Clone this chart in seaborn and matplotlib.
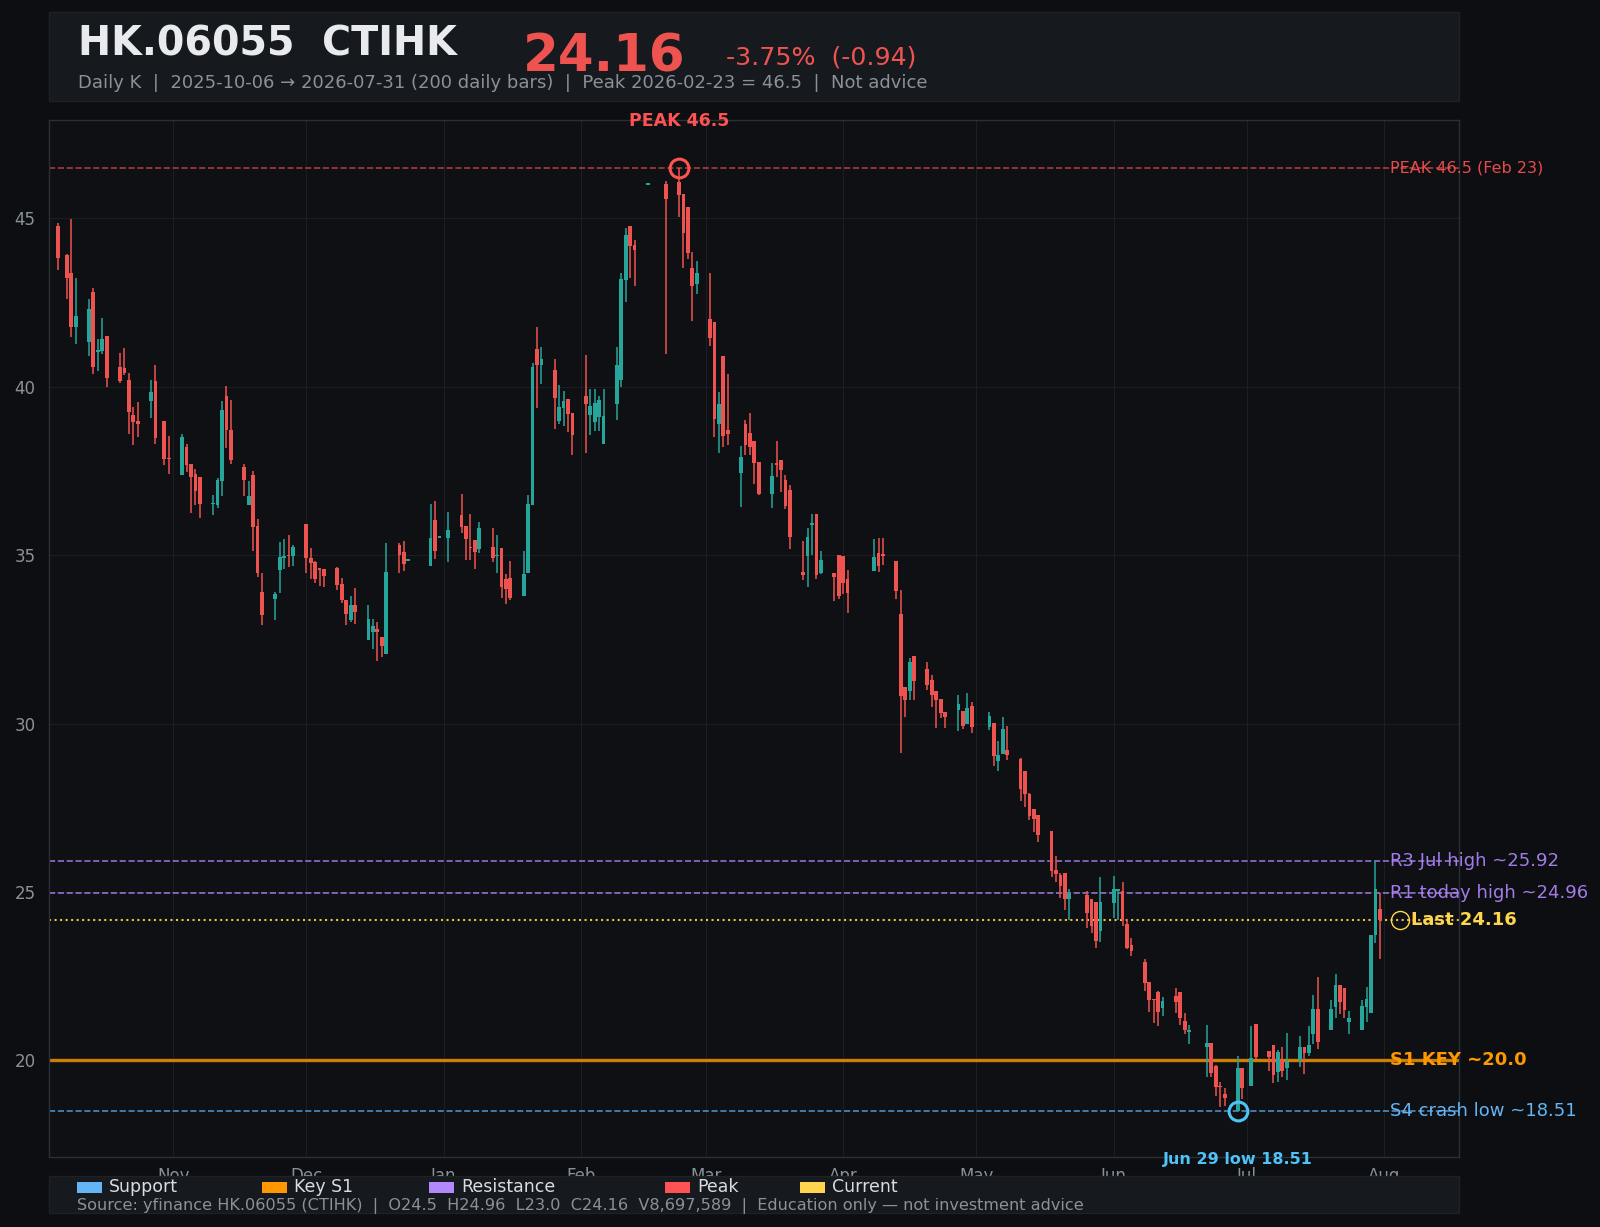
"""Daily K chart for HK.06055 (CTIHK) with support / resistance levels.

Candles from daily OHLC, dark theme, key levels labelled on the right.
Writes out.png (1600x1227).
"""
import numpy as np
import pandas as pd
import matplotlib
matplotlib.use("Agg")
import matplotlib.pyplot as plt
import matplotlib.dates as mdates
from matplotlib.patches import Rectangle
import seaborn as sns

# ---- data -------------------------------------------------------------
HK_HOLIDAYS = ["2025-10-07", "2025-10-29", "2025-12-25", "2025-12-26", "2026-01-01",
               "2026-02-17", "2026-02-18", "2026-02-19", "2026-04-03", "2026-04-06",
               "2026-04-07", "2026-05-01", "2026-05-25", "2026-06-19", "2026-07-01"]
trade_days = pd.bdate_range("2025-10-06", "2026-07-31")
trade_days = trade_days[~trade_days.isin(pd.to_datetime(HK_HOLIDAYS))]

opens = [
    44.77, 43.91, 43.38, 41.78, 41.34, 42.81, 41.04, 41.07, 41.50, 40.59, 40.55, 40.20, 39.16, 38.98, 39.59, 40.17, 38.98, 37.90,
    37.39, 38.21, 37.70, 37.41, 37.32, 36.51, 36.49, 37.21, 39.72, 38.71, 37.62, 36.49, 37.38, 35.86, 33.90, 33.71, 34.56, 34.93, 35.00, 34.98,
    35.92, 34.93, 34.79, 34.62, 34.59, 34.62, 34.14, 33.67, 33.07, 33.52, 32.48, 32.73, 32.80, 32.57, 32.07, 35.30, 35.09, 34.83, 34.69, 36.04, 35.52,
    35.52, 36.19, 35.86, 35.22, 35.45, 35.19, 35.24, 34.97, 35.21, 34.28, 34.32, 33.79, 34.48, 36.50, 41.12, 40.66, 40.50, 38.98, 39.38, 39.64, 39.22,
    39.72, 39.17, 38.96, 39.11, 38.31, 39.50, 40.20, 43.18, 44.77, 44.21, 46.00, 46.02, 46.08, 45.72, 45.34, 43.53, 43.06,
    42.01, 41.92, 38.89, 40.91, 38.73, 37.45, 38.89, 38.64, 38.39, 37.76, 36.81, 37.75, 37.82, 37.23, 36.93, 34.49, 34.98, 35.91, 36.22, 34.48, 34.47, 35.00,
    34.97, 34.29, 34.54, 35.06, 35.00, 34.82, 33.25, 31.08, 30.96, 32.00, 31.62, 31.29, 30.96, 30.73, 30.34, 30.40, 30.37, 29.98, 30.52,
    29.90, 30.01, 28.88, 29.09, 29.21, 28.94, 28.59, 27.90, 27.46, 27.28, 26.81, 25.65, 25.50, 25.56, 24.79, 24.90, 24.79, 24.70, 23.83,
    24.67, 25.04, 25.02, 24.04, 23.42, 22.92, 22.32, 21.81, 22.02, 21.56, 21.90, 22.02, 21.16, 20.85, 20.40, 20.51, 19.83, 19.21, 19.02, 18.51, 19.77,
    19.23, 21.07, 20.27, 20.45, 19.65, 20.00, 19.77, 20.00, 20.39, 20.21, 20.79, 21.54, 20.90, 21.59, 22.23, 22.16, 21.14, 20.90, 21.59, 21.41, 23.72, 24.50,
]
highs = [
    44.87, 43.95, 44.98, 43.24, 42.60, 42.94, 41.42, 42.04, 41.50, 41.00, 41.15, 40.41, 39.40, 39.55, 40.20, 40.65, 38.98, 38.54,
    38.60, 38.30, 37.70, 37.56, 37.32, 36.78, 37.30, 39.59, 40.02, 39.60, 37.70, 37.20, 37.50, 36.07, 34.47, 33.90, 35.40, 35.48, 35.60, 35.31,
    35.92, 35.20, 34.84, 34.62, 34.59, 34.64, 34.32, 33.67, 33.79, 34.02, 33.52, 33.10, 33.01, 32.57, 35.36, 35.36, 35.42, 34.86, 36.52, 36.61, 35.55,
    36.29, 36.81, 35.86, 36.22, 35.45, 35.98, 35.80, 35.60, 35.21, 34.44, 34.82, 35.13, 36.80, 40.70, 41.78, 41.18, 40.82, 40.05, 39.87, 39.64, 39.22,
    40.94, 39.93, 39.93, 39.73, 39.93, 41.19, 43.38, 44.70, 44.77, 44.36, 46.03, 46.11, 46.50, 45.72, 45.34, 44.00, 43.73,
    43.38, 41.92, 39.84, 40.91, 40.38, 38.25, 39.01, 39.22, 38.39, 37.76, 37.74, 38.39, 37.82, 37.38, 37.08, 35.42, 35.80, 36.22, 36.22, 35.12, 34.47, 35.00,
    34.97, 34.56, 35.48, 35.51, 35.51, 34.82, 33.96, 31.08, 31.94, 32.00, 31.82, 31.44, 30.96, 30.73, 30.34, 30.85, 30.37, 30.90, 30.64,
    30.35, 30.01, 29.48, 30.19, 29.92, 28.99, 28.59, 27.93, 27.46, 27.28, 26.81, 26.07, 25.56, 25.56, 25.08, 25.02, 24.79, 24.70, 25.44,
    25.47, 25.08, 25.29, 24.19, 23.63, 23.00, 22.32, 21.81, 22.05, 21.88, 22.14, 22.02, 21.40, 21.04, 21.04, 20.51, 19.88, 19.35, 19.17, 20.12, 19.77,
    21.01, 21.07, 20.27, 20.45, 20.30, 20.39, 20.81, 20.72, 20.39, 21.01, 21.93, 22.48, 21.79, 22.56, 22.23, 22.16, 21.46, 21.79, 22.18, 23.72, 25.92, 24.96,
]
lows = [
    43.47, 42.60, 41.49, 41.27, 40.90, 40.38, 40.48, 40.98, 40.00, 40.11, 40.35, 38.60, 38.27, 38.52, 39.07, 38.30, 37.67, 37.41,
    37.39, 37.47, 36.26, 36.49, 36.11, 36.19, 36.39, 36.75, 38.19, 37.70, 36.75, 36.49, 35.12, 34.36, 32.92, 33.07, 33.87, 34.59, 34.65, 34.68,
    34.48, 34.29, 34.18, 34.09, 34.06, 33.96, 33.59, 32.93, 33.02, 32.95, 32.48, 32.21, 31.86, 31.98, 32.07, 34.48, 34.53, 34.82, 34.69, 34.88, 35.50,
    34.80, 35.67, 34.85, 34.85, 34.60, 35.07, 34.80, 34.48, 33.73, 33.55, 33.66, 33.79, 34.48, 36.50, 39.37, 40.08, 38.74, 38.89, 38.84, 38.65, 37.97,
    38.04, 38.58, 38.70, 38.70, 38.31, 39.01, 40.00, 42.52, 43.22, 42.99, 45.99, 40.97, 45.05, 43.54, 43.79, 41.96, 42.75,
    41.21, 38.51, 38.03, 38.22, 38.27, 36.44, 37.97, 37.97, 37.11, 36.78, 36.40, 37.33, 36.88, 36.37, 35.18, 34.26, 34.06, 35.02, 34.29, 34.43, 33.65, 33.70,
    33.86, 33.29, 34.54, 34.50, 34.71, 33.70, 29.13, 30.19, 30.70, 30.70, 30.99, 30.49, 29.87, 30.16, 29.86, 29.77, 29.83, 29.98, 29.72,
    29.80, 28.74, 28.59, 29.09, 28.91, 27.70, 27.52, 27.13, 26.78, 26.48, 25.45, 25.29, 24.81, 24.46, 24.16, 23.92, 23.78, 23.33, 23.51,
    24.22, 24.16, 23.98, 23.30, 23.09, 22.06, 21.44, 21.11, 21.02, 21.32, 21.41, 21.04, 20.80, 20.48, 19.51, 19.51, 18.96, 18.61, 18.64, 18.51, 18.85,
    19.23, 20.03, 19.68, 19.33, 19.35, 19.51, 19.41, 19.80, 19.59, 20.12, 20.50, 20.33, 20.90, 21.26, 21.37, 21.26, 20.78, 20.90, 21.14, 21.41, 23.50, 23.00,
]
closes = [
    43.83, 43.24, 41.78, 42.10, 42.31, 40.60, 41.06, 41.42, 40.27, 40.18, 40.42, 39.26, 38.96, 38.90, 39.84, 38.49, 37.86, 37.85,
    38.51, 37.67, 37.31, 36.90, 36.53, 36.54, 37.23, 39.31, 38.71, 37.82, 37.23, 36.75, 35.84, 34.48, 33.23, 33.84, 34.94, 34.95, 34.97, 35.24,
    34.92, 34.78, 34.30, 34.57, 34.38, 34.12, 33.67, 33.26, 33.52, 33.32, 33.10, 32.90, 32.72, 32.31, 34.50, 35.02, 34.75, 34.84, 35.51, 35.13, 35.53,
    35.75, 35.84, 35.49, 35.20, 35.10, 35.80, 34.92, 34.99, 34.06, 34.01, 33.73, 34.44, 36.52, 40.60, 40.65, 40.82, 39.67, 39.40, 39.58, 39.20, 38.58,
    39.50, 39.43, 39.51, 39.61, 39.13, 40.65, 43.20, 44.51, 44.19, 44.06, 46.02, 45.58, 45.69, 44.57, 43.98, 43.00, 43.38,
    41.46, 39.05, 39.49, 38.54, 38.59, 37.92, 38.27, 38.22, 37.74, 36.81, 37.35, 37.68, 37.52, 36.46, 35.54, 34.41, 35.53, 35.97, 34.41, 34.85, 34.36, 33.80,
    34.18, 33.88, 34.94, 34.69, 34.99, 33.94, 30.82, 30.71, 31.82, 31.26, 31.14, 30.85, 30.70, 30.31, 30.19, 30.58, 29.92, 30.46, 29.90,
    30.22, 29.03, 29.06, 29.83, 29.06, 28.05, 27.90, 27.25, 27.16, 26.69, 25.62, 25.53, 25.17, 24.79, 24.93, 24.37, 24.00, 23.54, 24.70,
    25.08, 25.06, 24.16, 23.33, 23.25, 22.30, 21.79, 21.79, 21.44, 21.76, 21.74, 21.26, 20.92, 20.92, 20.51, 19.63, 19.20, 19.20, 18.88, 19.77, 19.17,
    20.06, 20.09, 20.09, 19.56, 20.24, 19.68, 19.97, 20.39, 20.21, 20.45, 21.54, 20.55, 21.52, 22.23, 21.74, 21.49, 21.27, 21.61, 21.84, 23.72, 25.10, 24.16,
]

PEAK, PEAK_DATE = 46.5, "2026-02-23"
LOW, LOW_DATE = 18.51, "2026-06-29"
R3, R1, LAST, S1, S4 = 25.92, 24.96, 24.16, 20.0, 18.51

legend_items = ["Support", "Key S1", "Resistance", "Peak", "Current"]

# ---- style ------------------------------------------------------------
UP, DOWN = "#26a69a", "#ef5350"
FIG_BG, AX_BG, PANEL = "#0c0e11", "#0e1013", "#161a1f"
GREY = "#8b9199"
C_SUP, C_KEY, C_RES, C_PEAK, C_CUR = "#64b5f6", "#ff9800", "#b388ff", "#ff5252", "#ffd54f"
C_LOW = "#4fc3f7"

sns.set_theme(style="dark", rc={
    "figure.facecolor": FIG_BG, "axes.facecolor": AX_BG,
    "axes.edgecolor": "#2b2f36", "grid.color": "#1b1e23",
    "xtick.color": GREY, "ytick.color": GREY,
})
plt.rcParams["font.family"] = ["DejaVu Sans"]

W, H = 1600, 1227


def fx(px):
    return px / W


def fy(py):
    return 1 - py / H


fig = plt.figure(figsize=(16, 12.27), dpi=100)
ax = fig.add_axes([fx(49), fy(1156.5), 1410 / W, 1036.5 / H])

# ---- candles ----------------------------------------------------------
x = mdates.date2num(trade_days)
o, hi, lo, c = map(np.asarray, (opens, highs, lows, closes))
cols = np.where(c >= o, UP, DOWN)
ax.vlines(x, lo, hi, colors=cols, lw=1.1, zorder=3)
ax.bar(x, np.maximum(np.abs(c - o), 0.05), bottom=np.minimum(o, c),
       width=0.85, color=cols, linewidth=0, zorder=4)

# ---- key levels -------------------------------------------------------
ax.axhline(PEAK, color=C_PEAK, ls="--", lw=1.2, alpha=0.65, zorder=2)
ax.axhline(R3, color=C_RES, ls="--", lw=1.2, alpha=0.8, zorder=2)
ax.axhline(R1, color=C_RES, ls="--", lw=1.2, alpha=0.8, zorder=2)
ax.axhline(LAST, color=C_CUR, ls=":", lw=1.5, alpha=0.9, zorder=2)
ax.axhline(S1, color=C_KEY, ls="-", lw=2.4, alpha=0.8, zorder=2)
ax.axhline(S4, color=C_SUP, ls="--", lw=1.2, alpha=0.75, zorder=2)

lab_x = x[-1] + 2.3
txt = dict(va="center", ha="left", clip_on=False, fontsize=13)
ax.text(lab_x, PEAK, "PEAK 46.5 (Feb 23)", color=C_PEAK, alpha=0.9, **{**txt, "fontsize": 11.5})
ax.text(lab_x, R3, "R3 Jul high ~25.92", color=C_RES, alpha=0.9, **txt)
ax.text(lab_x, R1, "R1 today high ~24.96", color=C_RES, alpha=0.9, **txt)
ax.plot(x[-1] + 4.6, LAST, "o", ms=13, mfc="none", mec=C_CUR, mew=1.0, clip_on=False, zorder=5)
ax.text(x[-1] + 7.1, LAST, "Last 24.16", color=C_CUR, fontweight="bold", **txt)
ax.text(lab_x, S1, "S1 KEY ~20.0", color=C_KEY, fontweight="bold", **txt)
ax.text(lab_x, S4, "S4 crash low ~18.51", color=C_SUP, **txt)

# peak and low markers
peak_x = mdates.date2num(pd.Timestamp(PEAK_DATE))
low_x = mdates.date2num(pd.Timestamp(LOW_DATE))
ax.plot(peak_x, PEAK, "o", ms=13.5, mfc="none", mec=C_PEAK, mew=2.2, zorder=6, clip_on=False)
ax.plot(low_x, LOW, "o", ms=13.5, mfc="none", mec=C_LOW, mew=2.2, zorder=6, clip_on=False)
ax.annotate("PEAK 46.5", (peak_x, PEAK), xytext=(0, 34), textcoords="offset points",
            ha="center", va="center", color=C_PEAK, fontsize=12.5, fontweight="bold",
            annotation_clip=False)
ax.annotate("Jun 29 low 18.51", (low_x, LOW), xytext=(0, -35), textcoords="offset points",
            ha="center", va="center", color=C_LOW, fontsize=11.5, fontweight="bold",
            annotation_clip=False)

# ---- axes -------------------------------------------------------------
ax.set_xlim(mdates.date2num(pd.Timestamp("2025-10-04")),
            mdates.date2num(pd.Timestamp("2026-08-17 20:00")))
ax.set_ylim(17.15, 47.92)
ax.set_yticks([20, 25, 30, 35, 40, 45])
ax.xaxis.set_major_locator(mdates.MonthLocator())
ax.xaxis.set_major_formatter(mdates.DateFormatter("%b"))
ax.grid(True, lw=0.8)
ax.tick_params(axis="both", labelsize=12, length=3.6, width=1, color=GREY)
ax.tick_params(axis="y", pad=6)
ax.tick_params(axis="x", pad=4)
for sp in ax.spines.values():
    sp.set_linewidth(1.0)

# ---- header panel -----------------------------------------------------
fig.add_artist(Rectangle((fx(49), fy(101)), 1410 / W, 89 / H, transform=fig.transFigure,
                         facecolor=PANEL, edgecolor="#1e2228", lw=1, zorder=10))
fig.text(fx(78), fy(55.5), "HK.06055  CTIHK", fontsize=28.5, fontweight="bold",
         color="#e8eaed", va="baseline", zorder=11)
fig.text(fx(523), fy(71), "24.16", fontsize=37, fontweight="bold",
         color=DOWN, va="baseline", zorder=11)
fig.text(fx(726), fy(65), "-3.75%  (-0.94)", fontsize=18.2,
         color=DOWN, va="baseline", zorder=11)
fig.text(fx(78), fy(88.5),
         "Daily K  |  2025-10-06 \u2192 2026-07-31 (200 daily bars)  |  Peak 2026-02-23 = 46.5  |  Not advice",
         fontsize=13, color=GREY, va="baseline", zorder=11)

# ---- footer panel / legend -------------------------------------------
fig.add_artist(Rectangle((fx(49), fy(1213)), 1410 / W, 37 / H, transform=fig.transFigure,
                         facecolor=PANEL, edgecolor="#1e2228", lw=1, zorder=10))
leg_cols = [C_SUP, C_KEY, C_RES, C_PEAK, C_CUR]
leg_x = [77, 262, 429, 665, 800]
for name, col, px in zip(legend_items, leg_cols, leg_x):
    fig.add_artist(Rectangle((fx(px), fy(1193)), 25 / W, 11 / H, transform=fig.transFigure,
                             facecolor=col, lw=0, zorder=11))
    fig.text(fx(px + 32), fy(1192.5), name, fontsize=12.5, color="#d9dde2",
             va="baseline", zorder=11)
fig.text(fx(77), fy(1210.5),
         "Source: yfinance HK.06055 (CTIHK)  |  O24.5  H24.96  L23.0  C24.16  V8,697,589  |  "
         "Education only \u2014 not investment advice",
         fontsize=11.65, color=GREY, va="baseline", zorder=11)

fig.savefig("out.png", dpi=100, facecolor=fig.get_facecolor())
